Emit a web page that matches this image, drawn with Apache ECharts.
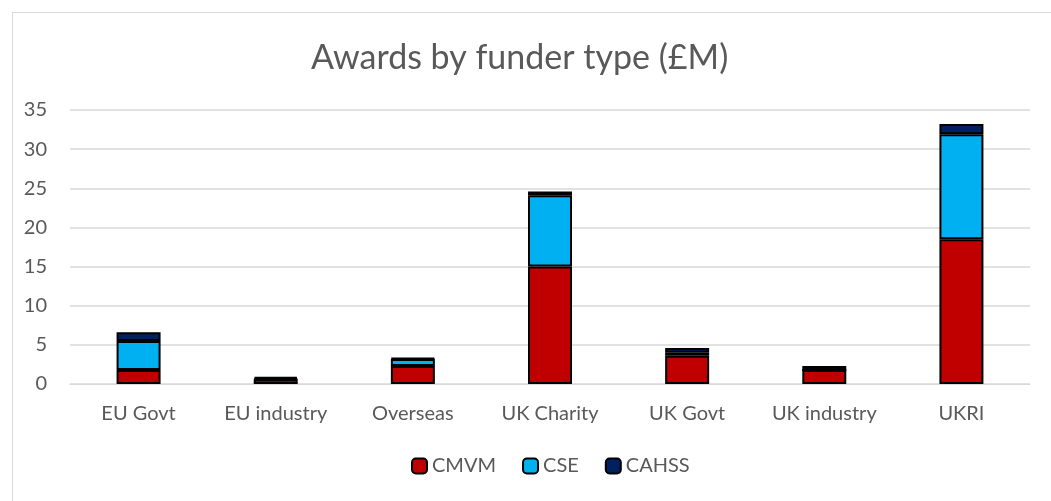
<!DOCTYPE html>
<html>
<head>
<meta charset="utf-8">
<script src="https://cdn.jsdelivr.net/npm/echarts@6/dist/echarts.min.js"></script>
<style>
  html, body { margin: 0; padding: 0; background: #fff; }
  #frame { position: absolute; left: 12px; top: 12px; width: 1045px; height: 495px; border: 1px solid #d9d9d9; box-sizing: border-box; }
  #echart { position: absolute; left: 0; top: 0; width: 1051px; height: 501px; }
</style>
</head>
<body>
<div id="frame"></div>
<div id="echart"></div>
<script>
// categories and values (£M)
var funders = ['EU Govt', 'EU industry', 'Overseas', 'UK Charity', 'UK Govt', 'UK industry', 'UKRI'];
var cmvm  = [1.8, 0.6, 2.3, 15.0, 3.6, 1.8, 18.5];
var cse   = [3.7, 0.1, 0.9, 9.1, 0.4, 0.0, 13.4];
var cahss = [1.1, 0.2, 0.1, 0.5, 0.6, 0.5, 1.3];
var yTicks = [0, 5, 10, 15, 20, 25, 30, 35];

var textColor = '#595959';
var font = 'Lato, "Open Sans", sans-serif';

function bar(name, data, color) {
  return {
    name: name,
    type: 'bar',
    stack: 'total',
    data: data,
    barWidth: 44,
    itemStyle: { color: color, borderColor: '#000', borderWidth: 2 }
  };
}

var myChart = echarts.init(document.getElementById('echart'));
var option = {
  animation: false,
  title: {
    text: 'Awards by funder type (£M)',
    left: 306,
    top: 36,
    textStyle: { color: textColor, fontSize: 34, fontWeight: 'normal', fontFamily: font }
  },
  grid: { left: 70, right: 21, top: 110, bottom: 117 },
  legend: {
    bottom: 20,
    left: 406,
    itemWidth: 15,
    itemHeight: 15,
    itemGap: 26,
    textStyle: { color: textColor, fontSize: 20, fontFamily: font },
    data: ['CMVM', 'CSE', 'CAHSS']
  },
  xAxis: {
    type: 'category',
    data: funders,
    axisLine: { lineStyle: { color: '#d9d9d9', width: 1 } },
    axisTick: { show: false },
    axisLabel: { color: textColor, fontSize: 20, fontFamily: font, margin: 20 }
  },
  yAxis: {
    type: 'value',
    min: yTicks[0],
    max: yTicks[yTicks.length - 1],
    interval: 5,
    axisLine: { show: false },
    axisTick: { show: false },
    splitLine: { lineStyle: { color: '#d9d9d9', width: 1.5 } },
    axisLabel: { color: textColor, fontSize: 20, fontFamily: font, margin: 23 }
  },
  series: [
    bar('CMVM', cmvm, '#c00000'),
    bar('CSE', cse, '#00b0f0'),
    bar('CAHSS', cahss, '#002060')
  ]
};
myChart.setOption(option);
</script>
</body>
</html>
